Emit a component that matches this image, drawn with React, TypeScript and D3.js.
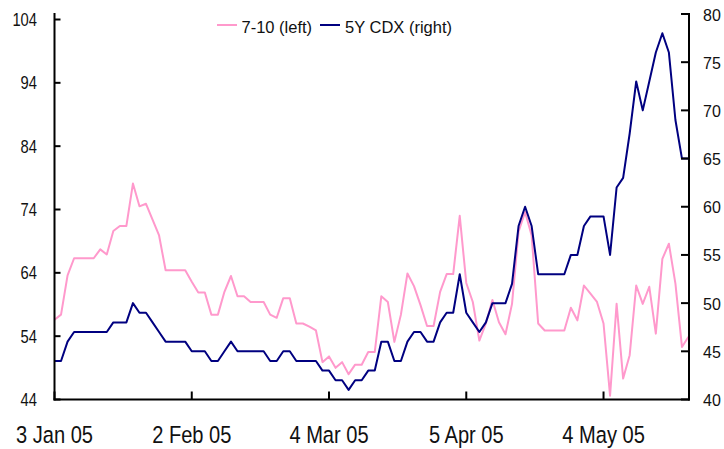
import * as d3 from 'd3';
import React from 'react';

// 7-10 spread (left axis)
const sevenTen = [
  56.6, 57.4, 63.6, 66.3, 66.3, 66.3, 66.3, 67.7, 66.9, 70.6,
  71.4, 71.4, 78.1, 74.5, 74.9, 72.4, 69.9, 64.4, 64.4, 64.4,
  64.4, 62.6, 60.9, 60.9, 57.4, 57.4, 61.0, 63.5, 60.3, 60.3,
  59.4, 59.4, 59.4, 57.4, 56.9, 60.0, 60.0, 56.0, 56.0, 55.5,
  54.9, 49.9, 50.8, 49.0, 49.9, 48.0, 49.5, 49.5, 51.5, 51.5,
  60.3, 59.4, 53.1, 57.4, 63.9, 61.9, 58.9, 55.6, 55.6, 61.0,
  63.8, 63.8, 73.0, 62.4, 59.4, 53.3, 56.0, 59.7, 56.2, 54.3,
  59.1, 70.5, 73.6, 69.9, 56.0, 54.9, 54.9, 54.9, 54.9, 58.5,
  56.5, 62.0, 60.7, 59.4, 56.0, 44.6, 59.1, 47.3, 51.0, 62.0,
  59.1, 61.8, 54.4, 66.2, 68.6, 62.3, 52.3, 53.9,
]

// 5Y CDX (right axis)
const cdx = [
  44, 44, 46, 47, 47, 47, 47, 47, 47, 48,
  48, 48, 50, 49, 49, 48, 47, 46, 46, 46,
  46, 45, 45, 45, 44, 44, 45, 46, 45, 45,
  45, 45, 45, 44, 44, 45, 45, 44, 44, 44,
  44, 43, 43, 42, 42, 41, 42, 42, 43, 43,
  46, 46, 44, 44, 46, 47, 47, 46, 46, 48,
  49, 49, 53, 49, 48, 47, 48, 50, 50, 50,
  52, 58, 60, 58, 53, 53, 53, 53, 53, 55,
  55, 58, 59, 59, 59, 55, 62, 63, 67.6, 73,
  70, 73, 76, 78, 76, 69, 65, 65,
]

const leftTicks = [44, 54, 64, 74, 84, 94, 104]
const rightTicks = [40, 45, 50, 55, 60, 65, 70, 75, 80]
const holidays = ['2005-01-17', '2005-02-21', '2005-03-25']
const tickEvery = 21

const keyFmt = d3.timeFormat('%Y-%m-%d')
const labelFmt = d3.timeFormat('%-d %b %y')

// trading days starting 3 Jan 05
const dates: Date[] = []
for (let d = new Date(2005, 0, 3); dates.length < sevenTen.length; d = d3.timeDay.offset(d, 1)) {
  const wd = d.getDay()
  if (wd === 0 || wd === 6 || holidays.includes(keyFmt(d))) continue
  dates.push(d)
}

const PINK = '#ff99cc'
const NAVY = '#000080'
const FONT = "'Liberation Sans', Arial, sans-serif"

export default function App() {
  const left = 54.5
  const right = 689
  const top = 14
  const bottom = 399.5

  const x = d3.scalePoint<number>()
    .domain(d3.range(dates.length))
    .range([left, right - 0.5])

  const yL = d3.scaleLinear().domain([44, 44 + (bottom - top) / ((bottom - 19.5) / 60)]).range([bottom, top])
  const yR = d3.scaleLinear().domain([40, 80]).range([bottom, top])

  const lineL = d3.line<number>().x((_, i) => x(i)!).y(d => yL(d))
  const lineR = d3.line<number>().x((_, i) => x(i)!).y(d => yR(d))

  const xTicks = d3.range(0, dates.length, tickEvery)

  return (
    <svg width={724} height={449} style={{ position: 'absolute', left: 0, top: 0, background: '#fff' }}
      fontFamily={FONT}>
      <path d={lineL(sevenTen)!} fill="none" stroke={PINK} strokeWidth={2} strokeLinejoin="round" />
      <path d={lineR(cdx)!} fill="none" stroke={NAVY} strokeWidth={2} strokeLinejoin="round" />

      {/* axes */}
      <g stroke="#000" strokeWidth={2}>
        <line x1={left} x2={left} y1={top - 1} y2={bottom + 1} />
        <line x1={right} x2={right} y1={top - 1} y2={bottom + 1} />
        <line x1={left - 1} x2={right + 1} y1={bottom} y2={bottom} />
        {leftTicks.map(t => <line key={'l' + t} x1={left} x2={left + 6} y1={yL(t)} y2={yL(t)} />)}
        {rightTicks.map(t => <line key={'r' + t} x1={right - 8} x2={right} y1={yR(t)} y2={yR(t)} />)}
        {xTicks.map(i => <line key={'x' + i} x1={x(i)} x2={x(i)} y1={bottom - 8} y2={bottom} />)}
      </g>

      {leftTicks.map(t => (
        <text key={'lt' + t} transform={`translate(37,${yL(t)}) scale(0.82,1)`} textAnchor="end"
          dominantBaseline="central" fontSize={18} fill="#111">{t}</text>
      ))}
      {rightTicks.map(t => (
        <text key={'rt' + t} x={703} y={yR(t) + 1} dominantBaseline="central" fontSize={16} fill="#111">{t}</text>
      ))}
      {xTicks.map(i => (
        <text key={'xt' + i} transform={`translate(${x(i)},443) scale(0.82,1)`} textAnchor="middle"
          fontSize={24.5} fill="#111">{labelFmt(dates[i])}</text>
      ))}

      {/* legend */}
      <line x1={217} x2={237} y1={25} y2={25} stroke={PINK} strokeWidth={2} />
      <text x={241.5} y={33} fontSize={16.5} fill="#111">7-10 (left)</text>
      <line x1={320} x2={340} y1={25} y2={25} stroke={NAVY} strokeWidth={2} />
      <text x={345} y={33} fontSize={16.5} fill="#111">5Y CDX (right)</text>
    </svg>
  )
}
